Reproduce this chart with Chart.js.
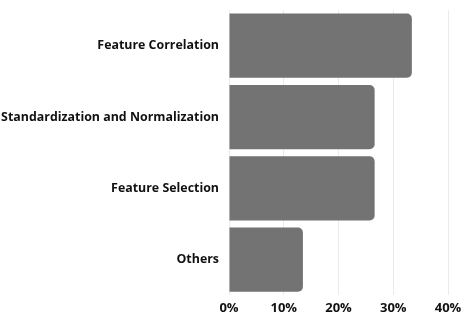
<!DOCTYPE html>
<html>
<head>
<meta charset="utf-8">
<script src="https://cdn.jsdelivr.net/npm/chart.js@4/dist/chart.umd.min.js"></script>
<style>
html,body{margin:0;padding:0;background:#fff;}
#wrap{width:469px;height:324px;position:relative;}
</style>
</head>
<body>
<div id="wrap"><canvas id="c"></canvas></div>
<script>
const categories = ["Feature Correlation", "Standardization and Normalization", "Feature Selection", "Others"];
const values = [33.4, 26.6, 26.6, 13.5];
const xTicks = [0, 10, 20, 30, 40];

new Chart(document.getElementById('c'), {
  type: 'bar',
  data: {
    labels: categories,
    datasets: [{
      data: values,
      backgroundColor: '#737373',
      borderWidth: 0,
      borderRadius: {topLeft: 0, bottomLeft: 0, topRight: 5, bottomRight: 5},
      borderSkipped: false,
      barPercentage: 0.9,
      categoryPercentage: 1.0
    }]
  },
  options: {
    indexAxis: 'y',
    responsive: true,
    maintainAspectRatio: false,
    animation: false,
    layout: {padding: {top: 10, right: 21, bottom: 3, left: 0}},
    plugins: {legend: {display: false}, tooltip: {enabled: false}},
    scales: {
      x: {
        min: 0, max: 40,
        afterBuildTicks: (s) => { s.ticks = xTicks.map(v => ({value: v})); },
        grid: {color: '#ebebeb', lineWidth: 1, drawTicks: false},
        border: {display: false},
        ticks: {
          callback: (v) => v + '%',
          color: '#111',
          font: {family: 'Open Sans', weight: 'bold', size: 13},
          padding: 5,
          maxRotation: 0
        }
      },
      y: {
        grid: {display: false, drawTicks: false},
        border: {display: false},
        afterFit: (s) => { s.width = 229; s.paddingTop = 0; s.paddingBottom = 0; },
        ticks: {
          color: '#111',
          font: {family: 'Open Sans', weight: 'bold', size: 12.4},
          padding: 10
        }
      }
    }
  }
});
</script>
</body>
</html>
